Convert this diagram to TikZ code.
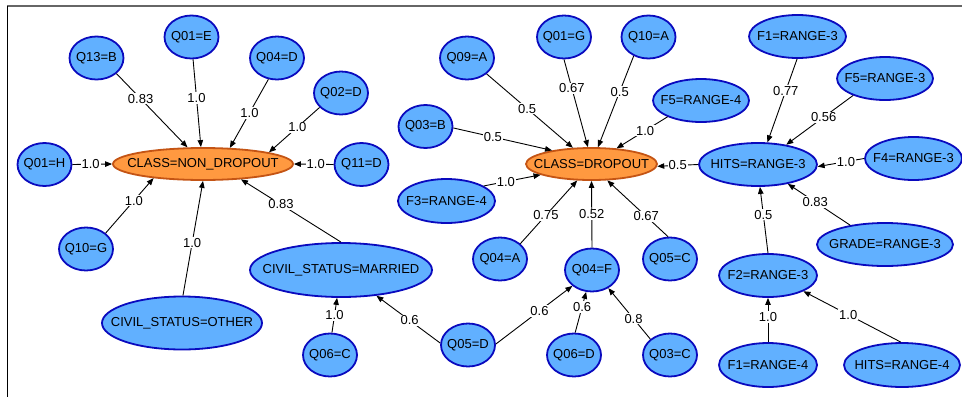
\documentclass[tikz,border=0pt]{standalone}
\usepackage{fontspec}
\setmainfont{Liberation Sans}
\usetikzlibrary{shapes.geometric,arrows.meta}
\definecolor{bfill}{RGB}{97,176,255}
\definecolor{bdraw}{RGB}{10,10,190}
\definecolor{ofill}{RGB}{255,153,64}
\definecolor{odraw}{RGB}{196,84,20}
\newcommand\zt[1]{\hbox to 0pt{\hss#1\hss}}
\begin{document}
\begin{tikzpicture}[x=1pt,y=-1pt,
  bn/.style={ellipse, draw=bdraw, fill=bfill, line width=1.8pt, inner sep=0pt,
    minimum width=54pt, minimum height=43pt, font=\fontsize{13}{15}\selectfont},
  on/.style={bn, draw=odraw, fill=ofill, minimum height=32pt},
  edge/.style={-{Triangle[length=7pt,width=5.5pt]}, line width=0.9pt},
  lbl/.style={fill=white, inner sep=1pt, font=\fontsize{13}{15}\selectfont}]
\useasboundingbox (0,0) rectangle (962,397);
% frame
\draw[line width=2pt, black!60] (7,6) -- (962,6);
\draw[line width=1pt, black] (7,6) -- (7,397);

% left cluster
\node[on, minimum width=180pt] (nd) at (203,164) {\zt{CLASS=NON\_DROPOUT}};
\node[bn] (q13b) at (96.5,58) {\zt{Q13=B}};
\node[bn] (q01e) at (191.5,37) {\zt{Q01=E}};
\node[bn] (q04d) at (277,58) {\zt{Q04=D}};
\node[bn] (q02d) at (341,93) {\zt{Q02=D}};
\node[bn] (q01h) at (44.5,164.5) {\zt{Q01=H}};
\node[bn] (q11d) at (361.5,164.5) {\zt{Q11=D}};
\node[bn] (q10g) at (86,249) {\zt{Q10=G}};
\node[bn, minimum width=160pt, minimum height=53pt] (cso) at (182,323) {\zt{CIVIL\_STATUS=OTHER}};
\node[bn, minimum width=182pt, minimum height=54pt] (csm) at (341,270) {\zt{CIVIL\_STATUS=MARRIED}};
\node[bn] (q06c) at (330,355) {\zt{Q06=C}};
\node[bn] (q05d) at (468,345) {\zt{Q05=D}};

% middle cluster
\node[on, minimum width=131pt] (dr) at (591.5,164) {\zt{CLASS=DROPOUT}};
\node[bn] (q09a) at (467,58) {\zt{Q09=A}};
\node[bn] (q01g) at (564,37) {\zt{Q01=G}};
\node[bn] (q10a) at (648.5,37) {\zt{Q10=A}};
\node[bn] (q03b) at (425.5,126.5) {\zt{Q03=B}};
\node[bn, minimum width=96pt] (f5r4) at (701,100.5) {\zt{F5=RANGE-4}};
\node[bn, minimum width=97pt, minimum height=44pt] (f3r4) at (446.5,201) {\zt{F3=RANGE-4}};
\node[bn] (q04a) at (500,259) {\zt{Q04=A}};
\node[bn] (q04f) at (592,270) {\zt{Q04=F}};
\node[bn] (q05c) at (670,259) {\zt{Q05=C}};
\node[bn] (q06d) at (574,355) {\zt{Q06=D}};
\node[bn] (q03c) at (670,355) {\zt{Q03=C}};

% right cluster
\node[bn, minimum width=118pt] (h3) at (758,164.5) {\zt{HITS=RANGE-3}};
\node[bn, minimum width=97pt] (f1r3) at (797.5,36.5) {\zt{F1=RANGE-3}};
\node[bn, minimum width=96pt] (f5r3) at (885,78.5) {\zt{F5=RANGE-3}};
\node[bn, minimum width=97pt] (f4r3) at (913.5,158.5) {\zt{F4=RANGE-3}};
\node[bn, minimum width=136pt] (gr3) at (885,244.5) {\zt{GRADE=RANGE-3}};
\node[bn, minimum width=98pt] (f2r3) at (768,275.5) {\zt{F2=RANGE-3}};
\node[bn, minimum width=98pt, minimum height=44pt] (f1r4) at (768,365) {\zt{F1=RANGE-4}};
\node[bn, minimum width=116pt, minimum height=44pt] (h4) at (902,365) {\zt{HITS=RANGE-4}};

% edges left
\draw[edge] (q13b.-38) -- node[lbl,pos=0.34]{0.83} (nd.133);
\draw[edge] (q01e.-86) -- node[lbl,pos=0.44]{1.0} (nd.97);
\draw[edge] (q04d.-112) -- node[lbl,pos=0.49]{1.0} (nd.31);
\draw[edge] (q02d.-146) -- node[lbl,pos=0.44]{1.0} (nd.10.5);
\draw[edge] (q01h.0) -- node[lbl,pos=0.46]{1.0} (nd.180);
\draw[edge] (q11d.180) -- node[lbl,pos=0.45]{1.0} (nd.0);
\draw[edge] (q10g.39) -- node[lbl,pos=0.59]{1.0} (nd.-164);
\draw[edge] (cso.88) -- node[lbl,pos=0.46]{1.0} (nd.-90);
\draw[edge] (csm.90) -- node[lbl,pos=0.6]{0.83} (nd.-22);
\draw[edge] (q06c.85) -- node[lbl,pos=0.5]{1.0} (csm.-98);
\draw[edge] (q05d.176) -- node[lbl,pos=0.48]{0.6} (csm.-36);

% edges middle
\draw[edge] (q09a.-39) -- node[lbl,pos=0.47]{0.5} (dr.139);
\draw[edge] (q01g.-90) -- node[lbl,pos=0.33]{0.67} (dr.102);
\draw[edge] (q10a.-128) -- node[lbl,pos=0.39]{0.5} (dr.69);
\draw[edge] (f5r4.-154) -- node[lbl,pos=0.44]{1.0} (dr.32);
\draw[edge] (q03b.-3) -- node[lbl,pos=0.4]{0.5} (dr.161);
\draw[edge] (f3r4.22) -- node[lbl,pos=0.39]{1.0} (dr.-168);
\draw[edge] (h3.180) -- node[lbl,pos=0.5]{0.5} (dr.-2);
\draw[edge] (q04a.37) -- node[lbl,pos=0.45]{0.75} (dr.-131);
\draw[edge] (q04f.90) -- node[lbl,pos=0.5]{0.52} (dr.-90);
\draw[edge] (q05c.95) -- node[lbl,pos=0.36]{0.67} (dr.-46);
\draw[edge] (q05d.2) -- node[lbl,pos=0.57]{0.6} (q04f.-141);
\draw[edge] (q06d.87) -- node[lbl,pos=0.63]{0.6} (q04f.-105);
\draw[edge] (q03c.141) -- node[lbl,pos=0.4]{0.8} (q04f.-48);

% edges right
\draw[edge] (f1r3.-91) -- node[lbl,pos=0.38]{0.77} (h3.67);
\draw[edge] (f5r3.-152) -- node[lbl,pos=0.44]{0.56} (h3.35);
\draw[edge] (f4r3.180) -- node[lbl,pos=0.39]{1.0} (h3.-2);
\draw[edge] (f2r3.90) -- node[lbl,pos=0.58]{0.5} (h3.-85);
\draw[edge] (gr3.151) -- node[lbl,pos=0.56]{0.83} (h3.-33);
\draw[edge] (f1r4.90) -- node[lbl,pos=0.57]{1.0} (f2r3.-90);
\draw[edge] (h4.93) -- node[lbl,pos=0.54]{1.0} (f2r3.-24);
\end{tikzpicture}
\end{document}
